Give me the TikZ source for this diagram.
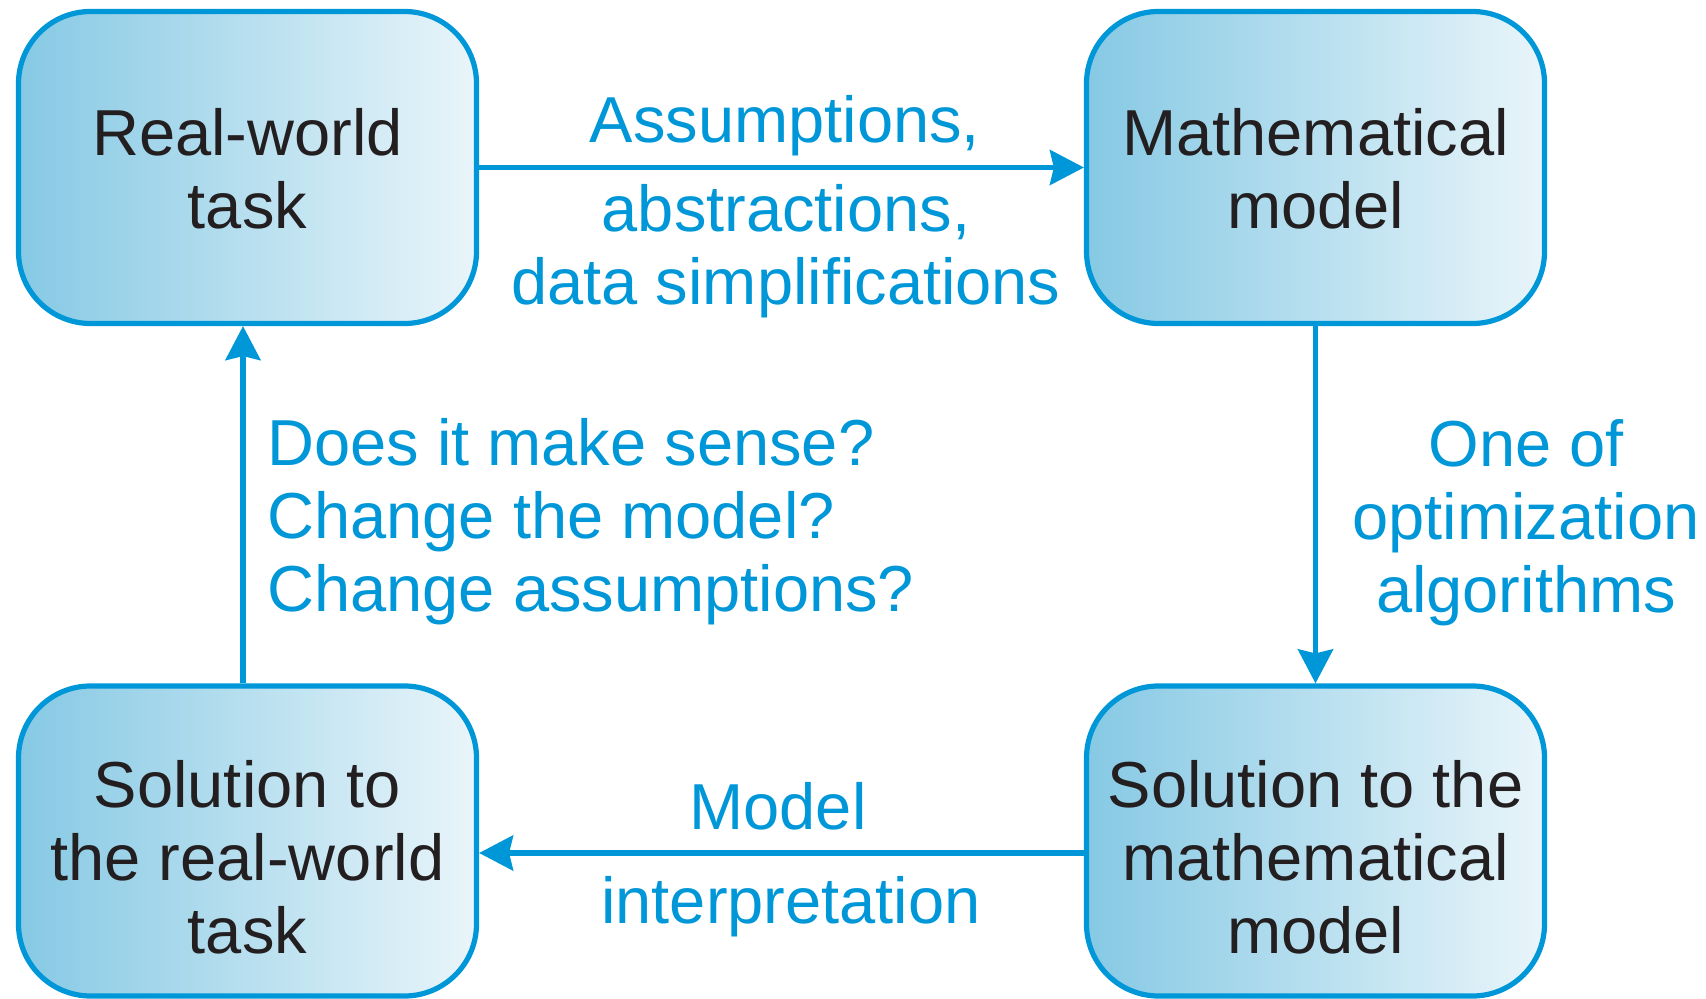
\documentclass[tikz,border=0pt]{standalone}
\usepackage{fontspec}
\setmainfont{Liberation Sans}
\usetikzlibrary{arrows.meta}
\definecolor{lineblue}{RGB}{0,151,216}
\definecolor{fillL}{RGB}{134,201,228}
\definecolor{fillR}{RGB}{233,245,250}
\definecolor{darktext}{RGB}{35,31,32}
\newcommand\lst{\rule[-10.5pt]{0pt}{36.5pt}}
\begin{document}
\begin{tikzpicture}[x=0.5pt,y=-0.5pt,
  boxshape/.style={draw=lineblue, line width=2.6pt, rounded corners=36pt,
    left color=fillL, right color=fillR, minimum width=229pt, inner sep=0pt},
  topbox/.style={boxshape, minimum height=156pt},
  botbox/.style={boxshape, minimum height=155pt},
  boxtext/.style={inner sep=0pt, align=center, text=darktext,
    font=\fontsize{32.5}{36.5}\selectfont},
  bluetext/.style={inner sep=0pt, text=lineblue,
    font=\fontsize{32.5}{36.5}\selectfont},
  arr/.style={draw=lineblue, line width=2.6pt,
    -{Stealth[length=17pt, width=17.5pt, inset=2pt]}}
]
\useasboundingbox (0,0) rectangle (1706,999);

% boxes
\node[topbox] (rw)  at (247.5,167.5) {};
\node[topbox] (mm)  at (1315.5,167.5) {};
\node[botbox] (srw) at (247.5,841) {};
\node[botbox] (smm) at (1315.5,841) {};

% box texts
\node[boxtext] (rwt)  at (247.5,176.5) {\lst Real-world\\\lst task};
\node[boxtext] (mmt)  at (1315.5,176.5) {\lst Mathematical\\\lst model};
\node[boxtext] (srwt) at (247.5,864.5) {\lst Solution to\\\lst the real-world\\\lst task};
\node[boxtext] (smmt) at (1315.5,864.5) {\lst Solution to the\\\lst mathematical\\\lst model};

% connectors
\draw[arr] (rw.east) -- (mm.west);
\draw[arr] (mm.south) -- (smm.north);
\draw[arr] ([yshift=-6pt]smm.west) -- ([yshift=-6pt]srw.east);
\draw[arr] ([xshift=-2.25pt]srw.north) -- ([xshift=-2.25pt]rw.south);

% labels
\node[bluetext] (l1) at (785,127.5) {\lst Assumptions,};
\node[bluetext, align=center] (l2) at (786,253) {\lst abstractions,\\\lst data simplifications};
\node[bluetext, align=center] (l3) at (1526,523.5) {\lst One of\\\lst optimization\\\lst algorithms};
\node[bluetext, align=left, anchor=west] (l4) at (267,522.5) {\lst Does it make sense?\\\lst Change the model?\\\lst Change assumptions?};
\node[bluetext] (l5) at (778,813.5) {\lst Model};
\node[bluetext] (l6) at (791,907.5) {\lst interpretation};
\end{tikzpicture}
\end{document}
